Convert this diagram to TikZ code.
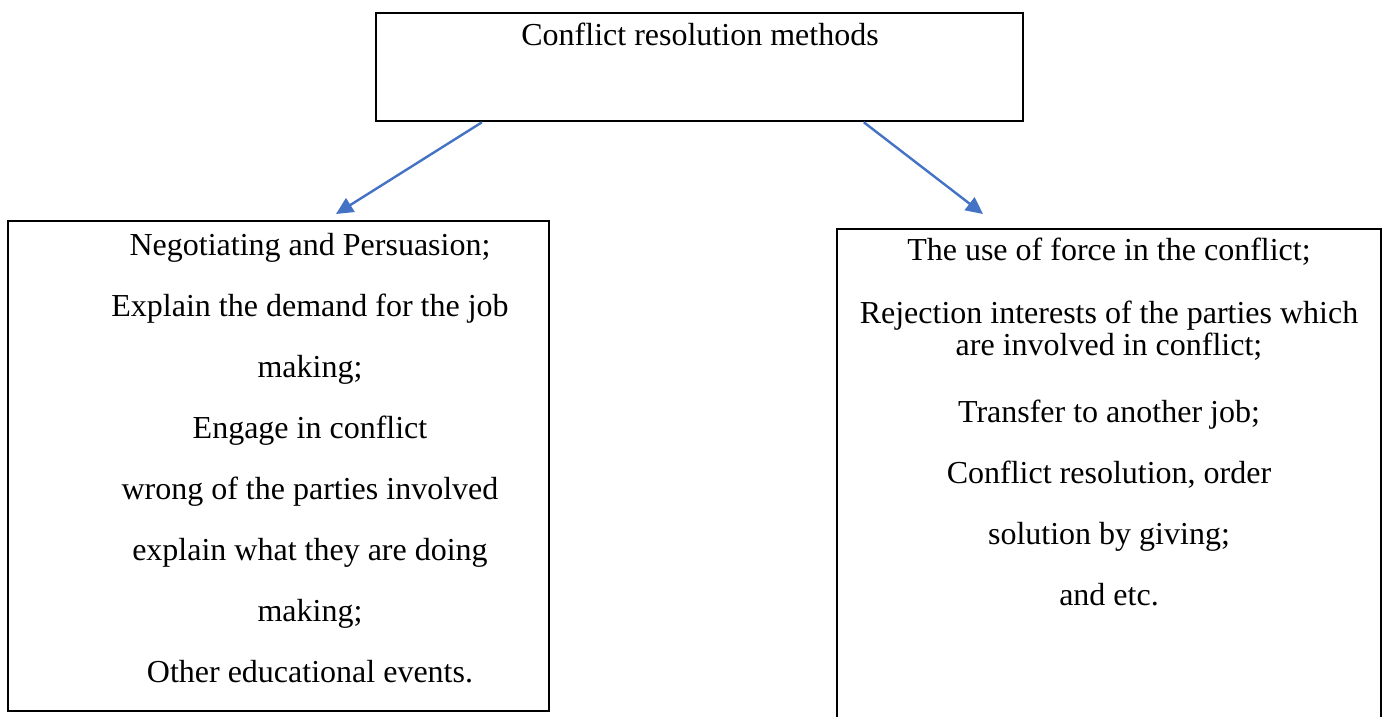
\documentclass[tikz,border=0pt]{standalone}
\usepackage{fontspec}
\setmainfont{Liberation Serif}
\usepackage{xcolor}
\usetikzlibrary{arrows.meta,calc}

\definecolor{arrowblue}{HTML}{4472C4}

\begin{document}
\begin{tikzpicture}[x=1pt, y=-1pt,
    box/.style={draw, rectangle, line width=2.6pt, inner sep=0pt},
    label/.style={inner sep=0pt, align=center, anchor=north, font={\fontsize{32}{61}\selectfont}},
    link/.style={line width=2.4pt, arrowblue, -{Triangle[length=17pt,width=16pt]}}]
    \useasboundingbox (0,0) rectangle (1386,716);
    \clip (0,0) rectangle (1386,716);
    % Boxes
    \node[box, minimum width=647pt, minimum height=108pt] (methods) at (699.5,67) {};
    \node[box, minimum width=541pt, minimum height=490pt] (soft) at (278.5,466) {};
    \node[box, minimum width=544pt, minimum height=540pt] (hard) at (1109,499) {};

    % Texts
    \node[label] (methodstext) at (700,23) {Conflict resolution methods};
    \node[label] (softtext) at (310,233) {Negotiating and Persuasion;\\
        Explain the demand for the job\\
        making;\\
        Engage in conflict\\
        wrong of the parties involved\\
        explain what they are doing\\
        making;\\
        Other educational events.};
    \node[label] (hardtext) at (1109,238) {The use of force in the conflict;\\[2pt]
        Rejection interests of the parties which\\[-29pt]
        are involved in conflict;\\[6pt]
        Transfer to another job;\\
        Conflict resolution, order\\
        solution by giving;\\
        and etc.};

    % Arrows
    \coordinate (softtip) at (336,214);
    \coordinate (hardtip) at (983,214);
    \draw[link] ($(methods.south west)!0.165!(methods.south east)$) -- (softtip);
    \draw[link] ($(methods.south west)!0.753!(methods.south east)$) -- (hardtip);
\end{tikzpicture}
\end{document}
